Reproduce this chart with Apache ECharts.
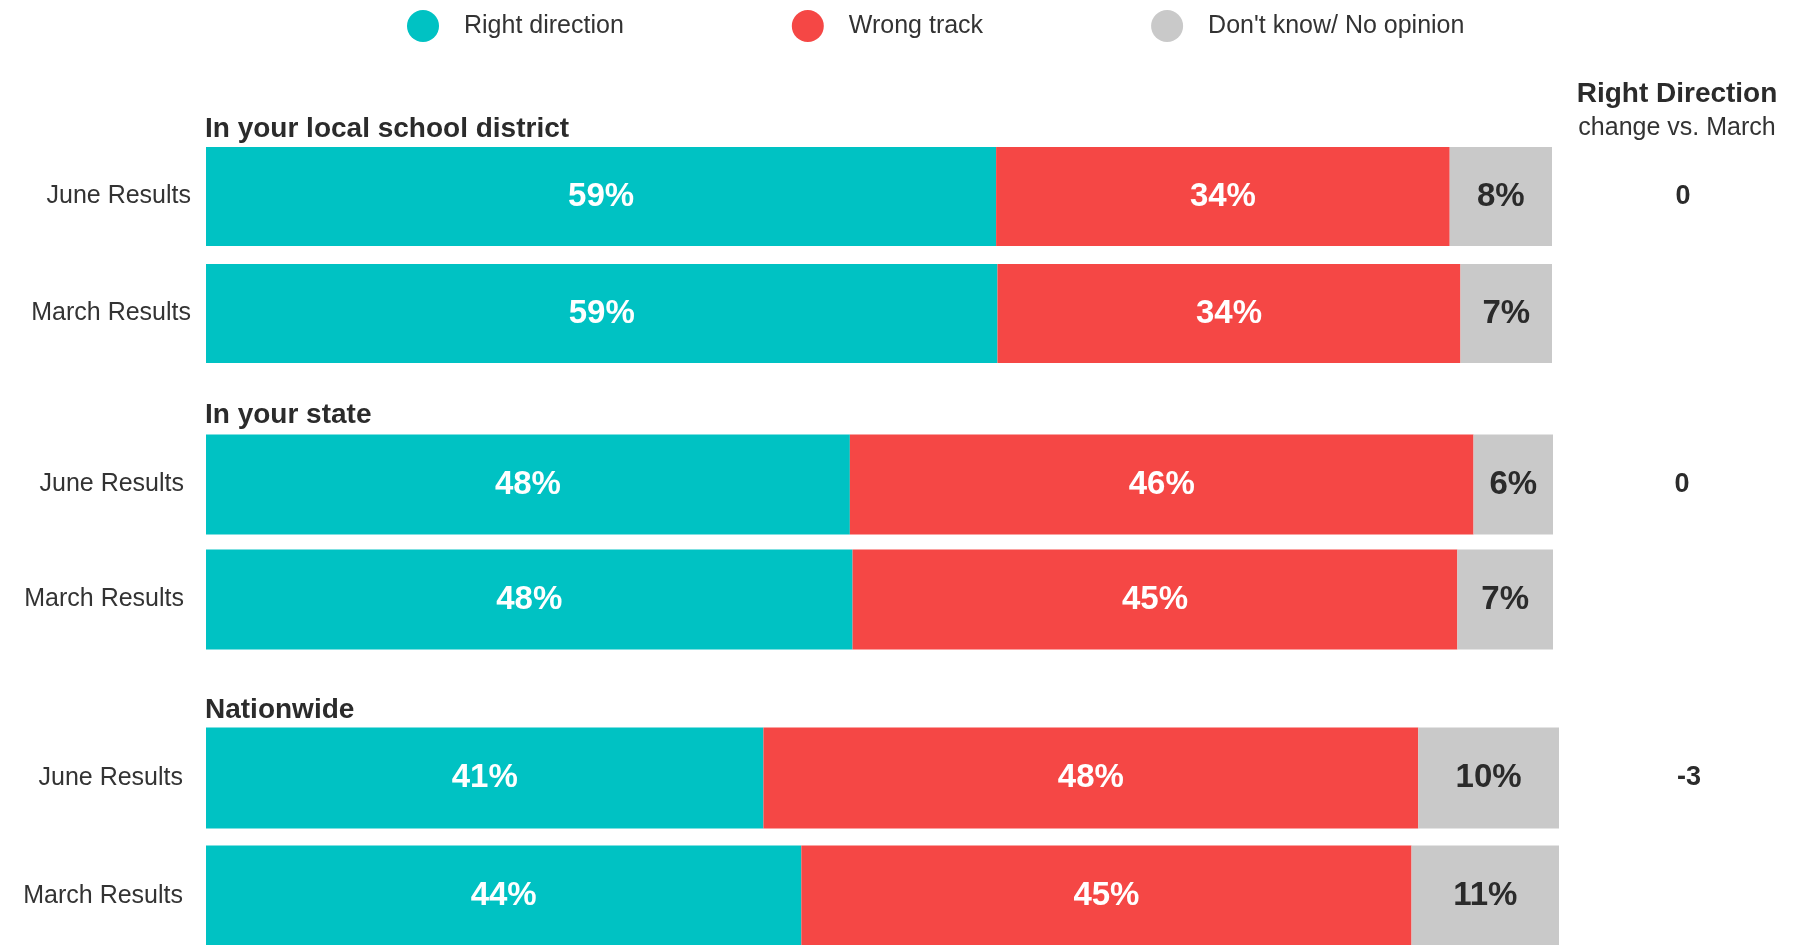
<!DOCTYPE html>
<html>
<head>
<meta charset="utf-8">
<script src="https://cdn.jsdelivr.net/npm/echarts@6/dist/echarts.min.js"></script>
<style>
  html, body { margin: 0; padding: 0; background: #fff; }
  #chart { width: 1803px; height: 945px; }
</style>
</head>
<body>
<div id="chart"></div>
<script>
// groups, top to bottom
const groups = ['In your local school district', 'In your state', 'Nationwide']
const rows = ['June Results', 'March Results']
const seriesNames = ['Right direction', 'Wrong track', "Don't know/ No opinion"]

// shares per group: [June, March]
const rightDirection = [[58.7, 58.8], [47.8, 48.0], [41.2, 44.0]]
const wrongTrack = [[33.7, 34.4], [46.3, 44.9], [48.4, 45.1]]
const dontKnow = [[7.6, 6.8], [5.9, 7.1], [10.4, 10.9]]

// Right direction change vs. March, per group
const change = [0, 0, -3]

const colors = ['#00c2c3', '#f54745', '#c9c9c9']
const font = "'Liberation Sans', Arial, sans-serif"

// layout of each block
const grids = [
  { top: 138, height: 234, right: 251, barWidth: 99, labelMargin: 15, changeMargin: 131 },
  { top: 427, height: 230, right: 250, barWidth: 100, labelMargin: 22, changeMargin: 129 },
  { top: 719, height: 236, right: 244, barWidth: 101, labelMargin: 23, changeMargin: 130 }
]
const titleTops = [110, 396, 691]

const myChart = echarts.init(document.getElementById('chart'))

const option = {
  backgroundColor: '#fff',
  animation: false,
  textStyle: { fontFamily: font },
  title: [],
  legend: {
    top: 5,
    left: 402,
    itemWidth: 72,
    itemHeight: 32,
    itemGap: 168,
    icon: 'circle',
    data: seriesNames,
    textStyle: { fontSize: 25, color: '#333', fontFamily: font }
  },
  grid: [],
  xAxis: [],
  yAxis: [],
  series: []
}

const allData = [rightDirection, wrongTrack, dontKnow]

groups.forEach((g, i) => {
  option.title.push({
    text: g,
    left: 200,
    top: titleTops[i],
    textStyle: { fontSize: 28, fontWeight: 'bold', color: '#2b2b2b', fontFamily: font }
  })
  option.grid.push({
    left: 206,
    right: grids[i].right,
    top: grids[i].top,
    height: grids[i].height,
    outerBoundsMode: 'none' // keep the exact rect
  })
  option.xAxis.push({
    type: 'value',
    gridIndex: i,
    min: 0,
    max: 100,
    show: false
  })
  option.yAxis.push({
    type: 'category',
    gridIndex: i,
    data: rows,
    inverse: true,
    axisLine: { show: false },
    axisTick: { show: false },
    axisLabel: {
      fontSize: 25,
      color: '#333',
      margin: grids[i].labelMargin,
      fontFamily: font
    }
  })
  // change column on the right
  option.yAxis.push({
    type: 'category',
    gridIndex: i,
    position: 'right',
    data: [String(change[i]), ''],
    inverse: true,
    axisLine: { show: false },
    axisTick: { show: false },
    axisLabel: {
      fontSize: 27,
      fontWeight: 'bold',
      color: '#2b2b2b',
      align: 'center',
      margin: grids[i].changeMargin,
      fontFamily: font
    }
  })
  seriesNames.forEach((name, k) => {
    option.series.push({
      name: name,
      type: 'bar',
      stack: 'g' + i,
      xAxisIndex: i,
      yAxisIndex: i * 2,
      barWidth: grids[i].barWidth,
      data: allData[k][i],
      itemStyle: { color: colors[k] },
      label: {
        show: true,
        position: 'inside',
        formatter: p => Math.round(p.value) + '%',
        fontSize: 33,
        fontWeight: 'bold',
        color: k === 2 ? '#2b2b2b' : '#fff',
        fontFamily: font
      }
    })
  })
})

// right column header
option.title.push({
  text: 'Right Direction',
  subtext: 'change vs. March',
  left: 1672,
  top: 75,
  textAlign: 'center',
  itemGap: 8,
  textStyle: { fontSize: 28, fontWeight: 'bold', color: '#2b2b2b', fontFamily: font },
  subtextStyle: { fontSize: 25, color: '#333', fontFamily: font }
})

myChart.setOption(option)
</script>
</body>
</html>
